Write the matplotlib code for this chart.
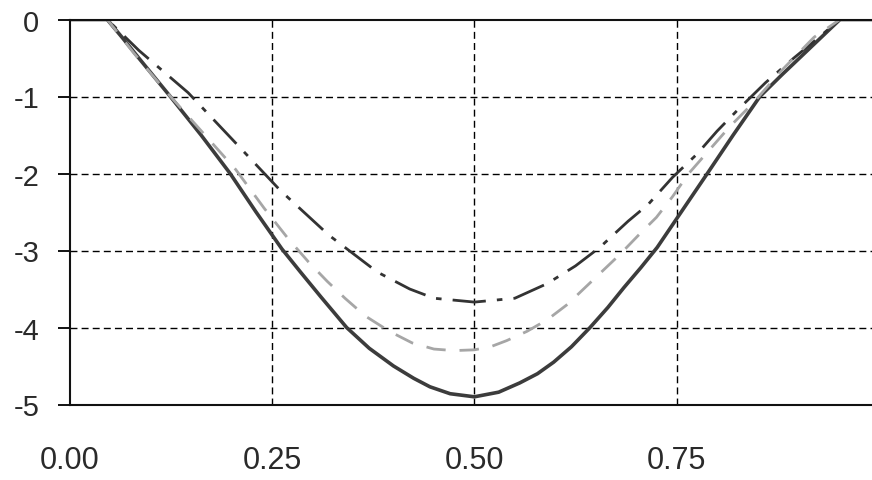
import matplotlib
matplotlib.use("Agg")
import matplotlib.pyplot as plt

plt.rcParams['font.family'] = ['Liberation Sans', 'DejaVu Sans']

# solid dark curve
x_solid = [0.0, 0.046, 0.065, 0.085, 0.124, 0.162, 0.198, 0.230, 0.262, 0.285, 0.310,
           0.342, 0.370, 0.400, 0.425, 0.445, 0.470, 0.500, 0.530, 0.556, 0.578,
           0.598, 0.620, 0.643, 0.665, 0.685, 0.706, 0.726, 0.757, 0.788, 0.820,
           0.853, 0.880, 0.905, 0.930, 0.952, 0.992]
y_solid = [0.0, 0.0, -0.24, -0.50, -1.00, -1.50, -2.00, -2.50, -2.98, -3.28, -3.60,
           -4.00, -4.27, -4.50, -4.66, -4.77, -4.86, -4.90, -4.84, -4.72, -4.60,
           -4.45, -4.25, -4.00, -3.74, -3.48, -3.22, -2.96, -2.48, -2.00, -1.50,
           -1.00, -0.72, -0.47, -0.22, 0.0, 0.0]

# dash-dot dark curve
x_dd = [0.0, 0.046, 0.085, 0.146, 0.200, 0.260, 0.320, 0.380, 0.420, 0.450, 0.500,
        0.550, 0.590, 0.625, 0.655, 0.690, 0.715, 0.745, 0.775, 0.800, 0.825, 0.860,
        0.895, 0.925, 0.952, 0.992]
y_dd = [0.0, 0.0, -0.40, -0.95, -1.55, -2.22, -2.80, -3.28, -3.50, -3.62, -3.67,
        -3.62, -3.43, -3.20, -2.96, -2.62, -2.40, -2.05, -1.75, -1.45, -1.18, -0.82,
        -0.50, -0.24, 0.0, 0.0]

# light grey dashed curve
x_lg = [0.0, 0.046, 0.080, 0.120, 0.160, 0.205, 0.240, 0.270, 0.295, 0.318, 0.340,
        0.365, 0.395, 0.423, 0.450, 0.475, 0.500, 0.520, 0.540, 0.565, 0.590, 0.615,
        0.640, 0.660, 0.680, 0.703, 0.725, 0.745, 0.765, 0.790, 0.815, 0.845, 0.880,
        0.920, 0.952, 0.992]
y_lg = [0.0, 0.0, -0.45, -0.95, -1.42, -1.95, -2.45, -2.85, -3.15, -3.40, -3.62,
        -3.85, -4.05, -4.20, -4.28, -4.30, -4.29, -4.25, -4.17, -4.05, -3.90, -3.70,
        -3.45, -3.25, -3.05, -2.80, -2.57, -2.30, -2.00, -1.70, -1.40, -1.08, -0.66,
        -0.23, 0.0, 0.0]

xticks = [0.0, 0.25, 0.5, 0.75]
xtick_labels = ['0.00', '0.25', '0.50', '0.75']
yticks = [0, -1, -2, -3, -4, -5]

fig = plt.figure(figsize=(8.72, 4.81), dpi=100)
ax = fig.add_axes([70 / 872, 1 - 405.5 / 481, 1 - 70 / 872, (405.5 - 20.5) / 481])

# dashed grid, inner lines only (the frame covers 0 and -5)
for gx in xticks[1:]:
    ax.axvline(gx, color='black', lw=1.0, dashes=(5, 3), zorder=1)
for gy in yticks[1:-1]:
    ax.axhline(gy, color='black', lw=1.0, dashes=(5, 3), zorder=1)

ax.plot(x_solid, y_solid, color='#3c3c3c', lw=2.6, solid_joinstyle='round', zorder=3)
ax.plot(x_dd, y_dd, color='#333333', lw=2.0, dashes=(12, 4, 2, 4), zorder=4)
ax.plot(x_lg, y_lg, color='#a6a6a6', lw=2.0, dashes=(7, 5), zorder=5)

ax.set_xlim(0, 0.9916)
ax.set_ylim(-5, 0)
ax.set_xticks(xticks)
ax.set_xticklabels(xtick_labels)
ax.set_yticks(yticks)
ax.set_yticklabels([str(v) for v in yticks])

ax.spines['right'].set_visible(False)
for s in ['left', 'top', 'bottom']:
    ax.spines[s].set_linewidth(1.5)
    ax.spines[s].set_color('#111111')
    ax.spines[s].set_zorder(6)

ax.tick_params(axis='y', length=9, width=1.3, pad=13, labelsize=21, labelcolor='#2a2a2a')
ax.tick_params(axis='x', length=0, pad=29, labelsize=22, labelcolor='#2a2a2a')

fig.savefig('out.png', dpi=100)
